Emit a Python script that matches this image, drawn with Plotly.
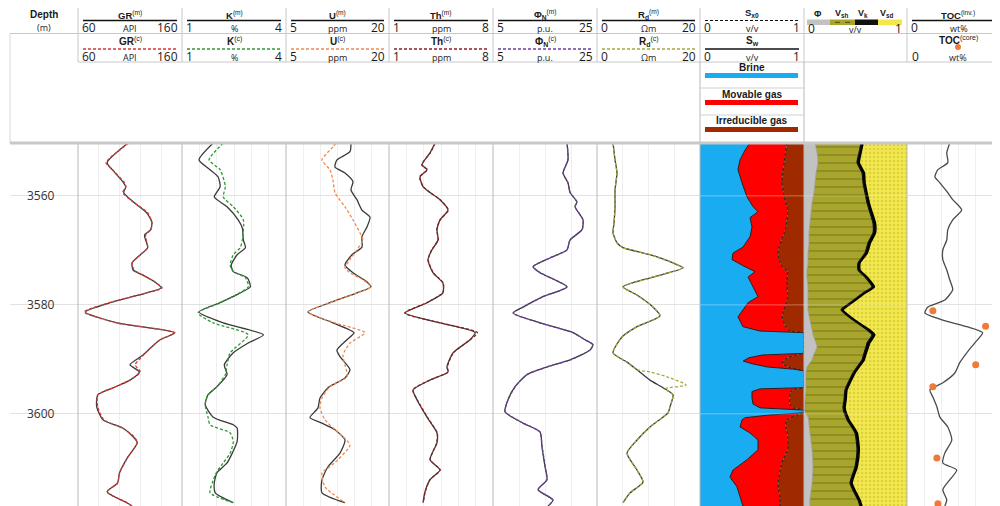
import plotly.graph_objects as go

# ---------------- DATA ----------------
DEPTH_TICKS = [3560, 3580, 3600]

GR_DEPTH = [3550.3, 3553.9, 3555.2, 3557.4, 3558.3, 3559.4, 3561.1, 3563.1, 3564.8, 3566.2, 3567.2, 3569.5, 3570.8,
            3572.3, 3573.6, 3574.5, 3575.8, 3576.9, 3577.8, 3579.6, 3581.3, 3583.3, 3585.1, 3586.4, 3587.7, 3589.2,
            3591.0, 3592.3, 3593.8, 3595.2, 3596.5, 3598.7, 3601.1, 3602.6, 3604.2, 3605.3, 3607.9, 3610.8, 3612.7,
            3614.3, 3616.3, 3616.9]
GR_M = [108, 88, 93, 103, 106, 104, 113, 126, 131, 130, 124, 127, 120, 112, 113, 122, 134, 140, 126, 91,
        67, 97.5, 153, 139, 131, 122.5, 110, 119, 110, 94, 79, 78, 84, 103, 113, 117, 108, 100, 98, 88, 107, 112]
GR_C = [109, 87, 93, 104, 106, 103, 113, 127, 131, 130, 125, 127, 120, 112, 114, 122, 134, 141, 126, 90,
        66, 97, 153, 139, 131, 123, 115, 120, 110, 94, 79, 79, 85, 103, 114, 117, 108, 100, 98, 88, 107, 112]

K_M_DEPTH = [3550.3, 3553.4, 3555.2, 3556.5, 3558.3, 3560.2, 3562.0, 3564.4, 3565.9, 3568.1, 3569.5, 3570.8, 3572.7,
             3573.9, 3575.0, 3576.7, 3577.8, 3579.6, 3581.3, 3583.3, 3585.5, 3587.0, 3588.8, 3591.0, 3592.8, 3595.0,
             3596.5, 3598.3, 3600.6, 3602.0, 3602.6, 3605.1, 3607.2, 3609.0, 3610.8, 3612.7, 3614.5, 3616.3]
K_M = [1.90, 1.49, 1.81, 2.04, 2.10, 1.93, 2.30, 2.62, 2.74, 2.77, 2.83, 2.59, 2.42, 2.48, 2.88, 2.97, 2.68, 2.10,
       1.49, 2.19, 3.35, 2.91, 2.48, 2.22, 2.30, 2.01, 1.75, 1.67, 1.90, 2.48, 2.59, 2.59, 2.45, 2.30, 2.01, 1.93,
       1.96, 2.48]
K_C_DEPTH = [3550.3, 3553.4, 3555.2, 3558.3, 3560.2, 3562.0, 3564.4, 3568.1, 3569.5, 3570.8, 3572.7, 3573.9, 3575.0,
             3576.7, 3579.6, 3581.5, 3583.3, 3585.5, 3588.8, 3591.0, 3592.8, 3595.0, 3596.5, 3598.3, 3600.6, 3602.0,
             3603.5, 3605.1, 3607.2, 3609.0, 3610.8, 3612.7, 3614.5, 3616.3]
K_C = [2.19, 1.78, 2.10, 2.25, 2.19, 2.48, 2.77, 2.74, 2.68, 2.48, 2.39, 2.48, 2.83, 2.91, 2.10, 1.46, 1.90, 2.91,
       2.39, 2.30, 2.25, 2.01, 1.75, 1.67, 1.75, 1.81, 2.39, 2.48, 2.39, 2.19, 1.99, 1.87, 1.81, 2.48]

U_M_DEPTH = [3550.3, 3551.9, 3553.4, 3554.7, 3555.8, 3557.4, 3558.9, 3560.7, 3562.6, 3563.9, 3565.7, 3567.5, 3569.4,
             3570.8, 3572.7, 3574.1, 3575.8, 3576.7, 3577.8, 3579.6, 3581.3, 3583.3, 3585.1, 3586.4, 3588.3, 3589.5,
             3591.9, 3593.4, 3595.2, 3597.1, 3598.9, 3600.7, 3601.7, 3602.9, 3604.8, 3607.2, 3609.7, 3612.1, 3614.5,
             3616.3]
U_M = [14.46, 14.32, 12.42, 12.13, 13.59, 14.75, 14.46, 15.33, 16.06, 17.23, 16.79, 16.06, 16.06, 14.61, 13.59,
       14.75, 16.79, 17.37, 15.33, 11.40, 8.20, 11.84, 14.90, 13.88, 12.42, 12.86, 14.32, 13.59, 11.11, 9.95, 9.66,
       8.49, 10.24, 12.13, 13.59, 12.86, 11.11, 10.24, 10.24, 13.59]
U_C_DEPTH = [3550.3, 3551.0, 3553.4, 3555.2, 3557.1, 3559.4, 3562.0, 3564.4, 3566.8, 3568.1, 3569.9, 3571.7, 3573.2,
             3574.1, 3575.4, 3576.7, 3577.8, 3579.6, 3581.3, 3583.3, 3585.1, 3587.0, 3589.2, 3591.0, 3593.2, 3595.0,
             3597.1, 3598.9, 3601.1, 3602.9, 3605.7, 3608.4, 3609.7, 3610.8, 3613.4, 3616.3]
U_C = [12.28, 11.84, 10.24, 11.40, 11.84, 12.13, 13.59, 14.75, 15.77, 16.21, 15.33, 14.32, 13.59, 14.32, 16.21,
       17.37, 15.33, 11.40, 8.20, 12.13, 16.50, 14.32, 13.30, 13.59, 13.88, 11.40, 10.24, 9.95, 10.68, 12.13, 14.32,
       12.57, 11.40, 10.24, 10.68, 13.59]

TH_DEPTH = [3550.3, 3552.1, 3554.3, 3555.2, 3556.5, 3558.3, 3559.4, 3560.7, 3562.6, 3564.4, 3566.2, 3568.1, 3569.9,
            3571.7, 3574.1, 3576.0, 3577.8, 3579.6, 3581.5, 3583.3, 3585.1, 3586.4, 3588.8, 3591.4, 3592.3, 3593.8,
            3595.6, 3597.4, 3600.6, 3603.5, 3605.3, 3608.4, 3610.3, 3612.1, 3614.3, 3616.3]
TH_M = [4.10, 3.76, 3.22, 3.56, 3.09, 3.29, 3.76, 4.43, 4.97, 4.43, 4.23, 4.30, 3.89, 3.62, 3.96, 4.63, 4.63, 3.56,
        2.08, 4.43, 6.80, 6.45, 5.31, 4.90, 4.97, 3.76, 2.62, 2.88, 3.56, 4.23, 4.23, 3.76, 4.43, 3.76, 3.42, 3.29]
TH_C = [4.12, 3.78, 3.20, 3.58, 3.07, 3.30, 3.78, 4.45, 4.99, 4.45, 4.21, 4.32, 3.87, 3.64, 3.98, 4.65, 4.61, 3.54,
        2.06, 4.45, 6.95, 6.47, 5.33, 4.92, 4.99, 3.74, 2.60, 2.90, 3.58, 4.25, 4.21, 3.78, 4.45, 3.74, 3.44, 3.31]

PHIN_DEPTH = [3550.3, 3553.4, 3555.8, 3557.6, 3559.4, 3561.1, 3562.0, 3564.4, 3566.2, 3568.1, 3569.9, 3571.4, 3573.0,
              3574.1, 3576.7, 3578.5, 3580.4, 3581.5, 3583.3, 3585.1, 3586.4, 3587.3, 3588.3, 3590.1, 3591.4, 3592.8,
              3595.0, 3597.4, 3599.6, 3601.7, 3603.3, 3606.1, 3609.7, 3612.1, 3613.9, 3615.8, 3616.9]
PHIN_M = [19.23, 19.42, 18.46, 19.42, 19.81, 21.15, 20.77, 22.31, 22.12, 19.81, 19.23, 15.96, 12.69, 14.04, 19.23,
          14.62, 10.77, 8.85, 14.04, 20.38, 22.69, 24.23, 23.65, 19.81, 15.38, 11.54, 9.23, 7.88, 7.31, 10.77, 14.04,
          14.42, 15.00, 15.38, 13.65, 16.54, 15.58]
PHIN_C = [19.25, 19.40, 18.50, 19.40, 19.85, 21.10, 20.80, 22.30, 22.15, 19.80, 19.25, 15.90, 12.70, 14.10, 19.20,
          14.60, 10.80, 8.90, 14.00, 20.40, 22.70, 24.20, 23.60, 19.85, 15.40, 11.50, 9.30, 7.90, 7.35, 10.80, 14.00,
          14.45, 15.05, 15.35, 13.70, 16.50, 15.60]

RD_M_DEPTH = [3550.3, 3553.4, 3555.8, 3558.9, 3562.0, 3565.0, 3566.8, 3568.6, 3569.5, 3570.8, 3572.3, 3573.2, 3574.9,
              3576.7, 3578.2, 3580.4, 3582.0, 3584.0, 3585.9, 3588.8, 3590.5, 3591.9, 3593.8, 3595.2, 3596.5, 3598.7,
              3599.8, 3602.4, 3604.8, 3607.2, 3610.3, 3612.5, 3614.5, 3616.3]
RD_M = [3.11, 3.50, 3.88, 3.50, 3.50, 3.30, 3.11, 3.88, 5.05, 10.29, 14.76, 16.70, 10.87, 5.05, 7.77, 10.87, 12.23,
        7.77, 4.85, 3.11, 5.83, 7.77, 10.29, 12.82, 14.76, 14.17, 13.79, 10.29, 7.77, 5.83, 7.77, 8.93, 6.41, 5.05]
RD_C_DEPTH = [3550.3, 3553.4, 3555.8, 3558.9, 3562.0, 3565.0, 3566.8, 3568.6, 3569.5, 3570.8, 3572.3, 3573.2, 3574.9,
              3576.7, 3578.2, 3580.4, 3582.0, 3584.0, 3585.9, 3588.8, 3590.5, 3591.9, 3592.3, 3593.2, 3594.7, 3595.4,
              3596.5, 3598.7, 3599.8, 3602.4, 3604.8, 3607.2, 3610.3, 3612.5, 3614.5, 3616.3]
RD_C = [3.11, 3.50, 3.88, 3.50, 3.50, 3.30, 3.11, 3.88, 5.05, 10.29, 14.76, 16.70, 10.87, 5.05, 7.77, 10.87, 12.23,
        7.77, 4.85, 3.11, 5.83, 7.77, 10.30, 13.60, 17.30, 13.20, 14.76, 14.17, 13.79, 10.29, 7.77, 5.83, 7.77, 8.93,
        6.41, 5.05]

SAT_DEPTH = [3550.3, 3551.6, 3553.4, 3555.2, 3557.6, 3560.2, 3562.0, 3562.9, 3564.0, 3565.7, 3567.5, 3569.4, 3570.5,
             3571.7, 3573.0, 3573.9, 3574.9, 3576.7, 3578.5, 3579.6, 3581.5, 3582.2, 3584.0, 3584.8, 3585.1, 3588.9,
             3589.2, 3589.7, 3590.3, 3590.8, 3591.4, 3591.8, 3592.1, 3595.2, 3595.4, 3595.9, 3597.1, 3598.2, 3598.9,
             3599.3, 3599.8, 3600.2, 3600.7, 3601.1, 3602.4, 3603.5, 3604.8, 3606.6, 3608.4, 3610.3, 3611.6, 3613.4,
             3615.2, 3616.9]
SW = [0.481, 0.433, 0.385, 0.365, 0.404, 0.452, 0.510, 0.558, 0.481, 0.500, 0.481, 0.413, 0.317, 0.308, 0.433, 0.529,
      0.462, 0.510, 0.558, 0.462, 0.385, 0.365, 0.413, 0.577, 1.0, 1.0, 0.60, 0.47, 0.415, 0.50, 0.65, 0.90, 1.0, 1.0,
      0.58, 0.50, 0.50, 0.51, 0.58, 1.0, 1.0, 0.67, 0.433, 0.404, 0.385, 0.481, 0.558, 0.558, 0.452, 0.317, 0.288,
      0.356, 0.385, 0.413]
SXO = [0.837, 0.827, 0.808, 0.798, 0.788, 0.808, 0.837, 0.846, 0.837, 0.827, 0.798, 0.760, 0.750, 0.760, 0.788, 0.846,
       0.837, 0.837, 0.846, 0.827, 0.798, 0.788, 0.817, 0.865, 1.0, 1.0, 0.92, 0.84, 0.80, 0.79, 0.85, 0.95, 1.0, 1.0,
       0.92, 0.87, 0.86, 0.86, 0.89, 1.0, 1.0, 0.93, 0.87, 0.83, 0.82, 0.84, 0.845, 0.846, 0.798, 0.77, 0.76, 0.75,
       0.77, 0.77]

LITH_DEPTH = [3550.3, 3552.1, 3553.9, 3555.8, 3557.6, 3559.4, 3561.3, 3563.1, 3565.0, 3566.8, 3568.6, 3570.5, 3572.3,
              3573.6, 3574.9, 3576.7, 3577.8, 3579.6, 3580.9, 3582.8, 3584.6, 3585.5, 3587.0, 3587.7, 3589.5, 3590.1,
              3591.4, 3592.5, 3593.2, 3595.6, 3597.4, 3598.7, 3599.3, 3600.6, 3601.1, 3603.5, 3606.6, 3609.7, 3612.7,
              3615.8, 3616.9]
PHI = [0.107, 0.126, 0.136, 0.117, 0.107, 0.097, 0.078, 0.068, 0.058, 0.049, 0.049, 0.039, 0.039, 0.029, 0.029, 0.039,
       0.039, 0.039, 0.039, 0.058, 0.078, 0.087, 0.117, 0.126, 0.087, 0.078, 0.029, 0.019, 0.019, 0.019, 0.010, 0.005,
       0.003, 0.039, 0.044, 0.058, 0.078, 0.087, 0.078, 0.058, 0.058]
VSH = [0.447, 0.408, 0.379, 0.447, 0.466, 0.495, 0.534, 0.573, 0.612, 0.621, 0.573, 0.553, 0.485, 0.495, 0.563, 0.621,
       0.534, 0.408, 0.320, 0.417, 0.534, 0.573, 0.495, 0.476, 0.485, 0.485, 0.485, 0.456, 0.437, 0.379, 0.379, 0.374,
       0.379, 0.369, 0.374, 0.437, 0.437, 0.408, 0.369, 0.466, 0.485]
VK = [0.020, 0.020, 0.022, 0.022, 0.020, 0.020, 0.022, 0.022, 0.024, 0.024, 0.024, 0.022, 0.020, 0.020, 0.022, 0.024,
      0.024, 0.022, 0.020, 0.020, 0.026, 0.028, 0.026, 0.024, 0.022, 0.022, 0.022, 0.020, 0.020, 0.020, 0.020, 0.020,
      0.020, 0.020, 0.020, 0.022, 0.022, 0.022, 0.020, 0.020, 0.020]

TOC_DEPTH = [3550.3, 3552.1, 3553.9, 3555.2, 3556.5, 3557.6, 3559.4, 3560.7, 3562.6, 3564.4, 3566.2, 3568.1, 3569.9,
             3571.7, 3573.6, 3575.4, 3577.2, 3579.1, 3580.4, 3581.5, 3582.8, 3584.0, 3585.1, 3587.0, 3588.8, 3590.6,
             3592.5, 3594.3, 3595.6, 3596.9, 3598.7, 3600.6, 3602.4, 3604.8, 3607.2, 3609.0, 3610.3, 3612.1, 3613.9,
             3615.8, 3616.9]
TOC_INV = [0.415, 0.386, 0.396, 0.300, 0.271, 0.319, 0.396, 0.444, 0.531, 0.444, 0.396, 0.386, 0.348, 0.348, 0.386,
           0.415, 0.444, 0.367, 0.203, 0.174, 0.348, 0.580, 0.734, 0.657, 0.580, 0.512, 0.464, 0.348, 0.222, 0.251,
           0.290, 0.319, 0.396, 0.435, 0.367, 0.348, 0.483, 0.415, 0.348, 0.386, 0.367]
CORE_DEPTH = [3581.1, 3583.9, 3591.0, 3595.0, 3608.1, 3616.5]
TOC_CORE = [0.251, 0.763, 0.667, 0.251, 0.290, 0.300]

TRACK_TITLES = ["GR", "K", "U", "Th", "Φ<sub>N</sub>", "R<sub>d</sub>"]
TRACK_UNITS = ["API", "%", "ppm", "ppm", "p.u.", "Ωm"]
TRACK_MIN = [60, 1, 5, 1, 5, 0]
TRACK_MAX = [160, 4, 20, 8, 25, 20]
CALC_COLORS = ["#d43a36", "#2f9a35", "#f08a50", "#8e1f1f", "#6d3fa0", "#a9a83a"]
LITH_LABELS = ["Φ", "V<sub>sh</sub>", "V<sub>k</sub>", "V<sub>sd</sub>"]
SAT_LEGEND = ["Brine", "Movable gas", "Irreducible gas"]

# ---------------- LAYOUT HELPERS ----------------
# the page has an 8 px body margin, so the figure is laid out in window pixels minus that offset
OFF = 8
W, H = 1000, 506
FW, FH = W - OFF, H - OFF
TOP = 143
EDGES = [10, 78, 182, 286, 389, 493, 597, 700, 804, 907, 1010]
YRANGE = [3616.9, 3550.3]
BLUE, RED, BROWN = "#1aacf0", "#ff0000", "#a02a00"
GRAY, OLIVE, YELLOW = "#c2c2c2", "#a8a52c", "#f2e84c"
TEXT = "#1a1a1a"


def px(x):
    return (x - OFF) / FW


def py(y):
    return 1 - (y - OFF) / FH


fig = go.Figure()
shapes = []
ann = []

x_ranges = [[0, 1]] + [[a, b] for a, b in zip(TRACK_MIN, TRACK_MAX)] + [[0, 1], [0, 1], [0, (W - 907) / (1010 - 907)]]
x_dticks = [None, 20, 0.5, 2.5, 7 / 6, 5, 5, None, None, 1 / 6]

layout_axes = {}
for i in range(10):
    n = "" if i == 0 else str(i + 1)
    x0, x1 = EDGES[i], min(EDGES[i + 1], W)
    xa = dict(domain=[px(x0), px(x1)], range=x_ranges[i], anchor="y" + n, showticklabels=False, ticks="",
              zeroline=False, showline=False, fixedrange=True,
              showgrid=x_dticks[i] is not None, gridcolor="#efefef", gridwidth=1)
    if x_dticks[i] is not None:
        xa.update(tick0=x_ranges[i][0], dtick=x_dticks[i])
    ya = dict(domain=[0, py(TOP)], range=YRANGE, anchor="x" + n, showticklabels=False, ticks="",
              tickvals=DEPTH_TICKS, showgrid=True, gridcolor="#e2e2e2", gridwidth=1, zeroline=False,
              showline=False, fixedrange=True)
    if i > 0:
        ya["matches"] = "y"
    layout_axes["xaxis" + n] = xa
    layout_axes["yaxis" + n] = ya


def ax(i):
    n = "" if i == 0 else str(i + 1)
    return dict(xaxis="x" + n, yaxis="y" + n)


LINE_M = dict(color="#3a3a3a", width=1.3, shape="spline", smoothing=0.6)


def calc_line(c):
    return dict(color=c, width=1.3, dash="3px,2px", shape="spline", smoothing=0.6)


curves = [
    (GR_DEPTH, GR_M, GR_DEPTH, GR_C),
    (K_M_DEPTH, K_M, K_C_DEPTH, K_C),
    (U_M_DEPTH, U_M, U_C_DEPTH, U_C),
    (TH_DEPTH, TH_M, TH_DEPTH, TH_C),
    (PHIN_DEPTH, PHIN_M, PHIN_DEPTH, PHIN_C),
    (RD_M_DEPTH, RD_M, RD_C_DEPTH, RD_C),
]
for k, (dm, vm, dc, vc) in enumerate(curves):
    fig.add_trace(go.Scatter(x=vm, y=dm, mode="lines", line=LINE_M, showlegend=False, hoverinfo="skip", **ax(k + 1)))
    fig.add_trace(go.Scatter(x=vc, y=dc, mode="lines", line=calc_line(CALC_COLORS[k]), showlegend=False,
                             hoverinfo="skip", **ax(k + 1)))

# Saturation track
fig.add_trace(go.Scatter(x=SW, y=SAT_DEPTH, mode="lines", fill="tozerox", fillcolor=BLUE,
                         line=dict(color="#202020", width=1), showlegend=False, hoverinfo="skip", **ax(7)))
fig.add_trace(go.Scatter(x=SXO, y=SAT_DEPTH, mode="lines", fill="tonextx", fillcolor=RED,
                         line=dict(color="#202020", width=1, dash="3px,2px"), showlegend=False, hoverinfo="skip",
                         **ax(7)))
fig.add_trace(go.Scatter(x=[1.0 for _ in SAT_DEPTH], y=SAT_DEPTH, mode="lines", fill="tonextx", fillcolor=BROWN,
                         line=dict(color=BROWN, width=0), showlegend=False, hoverinfo="skip", **ax(7)))

# Lithology track
cum1 = PHI
cum2 = [a + b for a, b in zip(PHI, VSH)]
cum3 = [a + b + c for a, b, c in zip(PHI, VSH, VK)]
vsd = [1 - c for c in cum3]
cum4 = [a + b for a, b in zip(cum3, vsd)]
fig.add_trace(go.Scatter(x=cum1, y=LITH_DEPTH, mode="lines", fill="tozerox", fillcolor=GRAY,
                         line=dict(color="#9a9a9a", width=0.8, shape="spline", smoothing=0.5), showlegend=False,
                         hoverinfo="skip", **ax(8)))
fig.add_trace(go.Scatter(x=cum2, y=LITH_DEPTH, mode="lines", fill="tonextx", fillcolor=OLIVE,
                         fillpattern=dict(shape="-", bgcolor=OLIVE, fgcolor="#6a6818", size=8, solidity=0.2),
                         line=dict(color="#111111", width=1.2, shape="spline", smoothing=0.5), showlegend=False,
                         hoverinfo="skip", **ax(8)))
fig.add_trace(go.Scatter(x=cum3, y=LITH_DEPTH, mode="lines", fill="tonextx", fillcolor="#000000",
                         line=dict(color="#000000", width=1.5, shape="spline", smoothing=0.5), showlegend=False,
                         hoverinfo="skip", **ax(8)))
fig.add_trace(go.Scatter(x=cum4, y=LITH_DEPTH, mode="lines", fill="tonextx", fillcolor=YELLOW,
                         fillpattern=dict(shape=".", bgcolor=YELLOW, fgcolor="#c4b733", size=4, solidity=0.3),
                         line=dict(color=YELLOW, width=0), showlegend=False, hoverinfo="skip", **ax(8)))

# TOC track
fig.add_trace(go.Scatter(x=TOC_INV, y=TOC_DEPTH, mode="lines", line=dict(color="#4a4a4a", width=1.3, shape="spline",
                                                                          smoothing=0.6),
                         showlegend=False, hoverinfo="skip", **ax(9)))
fig.add_trace(go.Scatter(x=TOC_CORE, y=CORE_DEPTH, mode="markers", marker=dict(color="#f07a3a", size=7),
                         showlegend=False, hoverinfo="skip", **ax(9)))

# ---------------- SHAPES / HEADER ----------------
BORDER = "#b8b8b8"


def hline(x0, x1, y, color=BORDER, width=1, dash=None, layer="above"):
    ln = dict(color=color, width=width)
    if dash:
        ln["dash"] = dash
    shapes.append(dict(type="line", xref="paper", yref="paper", x0=px(x0), x1=px(x1), y0=py(y), y1=py(y),
                       line=ln, layer=layer))


def vline(x, y0, y1, color=BORDER, width=1):
    shapes.append(dict(type="line", xref="paper", yref="paper", x0=px(x), x1=px(x), y0=py(y0), y1=py(y1),
                       line=dict(color=color, width=width), layer="above"))


def rect(x0, x1, y0, y1, color):
    shapes.append(dict(type="rect", xref="paper", yref="paper", x0=px(x0), x1=px(x1), y0=py(y1), y1=py(y0),
                       fillcolor=color, line=dict(width=0), layer="above"))


def text(x, y, s, size=10, anchor="center", bold=False, family="Liberation Sans", color=TEXT):
    if bold:
        s = "<b>" + s + "</b>"
    ann.append(dict(x=px(x), y=py(y), xref="paper", yref="paper", text=s, showarrow=False, xanchor=anchor,
                    yanchor="middle", borderpad=0, font=dict(size=size, family=family, color=color)))


def scale_row(x0, x1, y, lo, unit, hi):
    text(x0 + 3, y, str(lo), size=12, anchor="left", family="Open Sans")
    text((x0 + x1) / 2, y + 0.5, unit, size=9, family="Open Sans")
    text(x1 - 3, y, str(hi), size=12, anchor="right", family="Open Sans")


# header grid lines
hline(10, W, 33.5, color="#c8c8c8")
hline(78, W, 62, color="#c8c8c8")
for x in EDGES[1:10]:
    vline(x, OFF, 62, color="#c8c8c8")
vline(700, 62, TOP)
vline(804, 62, TOP)
vline(10, 33.5, TOP, color="#d8d8d8")
hline(700, 804, 88, color="#d0d0d0")
hline(700, 804, 115, color="#d0d0d0")

# depth header
text(44, 14, "Depth", size=10, bold=True)
text(44, 27, "(m)", size=9, family="Open Sans")

ROW1_Y = 15.5  # centre of row-1 titles (window px)
ROW1_Y_SUB = 14  # titles with a subscript sit a little higher

# log tracks header
for k in range(6):
    x0, x1 = EDGES[k + 1], EDGES[k + 2]
    cx = (x0 + x1) / 2
    has_sub = "<sub>" in TRACK_TITLES[k]
    text(cx, ROW1_Y_SUB if has_sub else ROW1_Y, "<b>" + TRACK_TITLES[k] + "</b><sup>(m)</sup>", size=9.5)
    hline(x0 + 5, x1 - 5, 20.5, color="#111111", width=1.3)
    scale_row(x0, x1, 27.5, TRACK_MIN[k], TRACK_UNITS[k], TRACK_MAX[k])
    text(cx, 41 if has_sub else 41.5, "<b>" + TRACK_TITLES[k] + "</b><sup>(c)</sup>", size=10)
    hline(x0 + 5, x1 - 5, 49, color=CALC_COLORS[k], width=1.3, dash="3px,2px")
    scale_row(x0, x1, 56.5, TRACK_MIN[k], TRACK_UNITS[k], TRACK_MAX[k])

# saturation header
x0, x1 = 700, 804
text(752, 13, "S<sub>x0</sub>", size=9.5, bold=True)
hline(x0 + 5, x1 - 5, 20.5, color="#111111", width=1.2, dash="3px,2px")
scale_row(x0, x1, 27.5, 0, "v/v", 1)
text(752, 40.5, "S<sub>w</sub>", size=10, bold=True)
hline(x0 + 5, x1 - 5, 49, color="#111111", width=1.3)
scale_row(x0, x1, 56.5, 0, "v/v", 1)
for lbl, yy, col in zip(SAT_LEGEND, [67, 94, 121], [BLUE, RED, BROWN]):
    text(752, yy, lbl, size=10, bold=True)
    rect(705, 798, yy + 6, yy + 11, col)

# lithology header
for lbl, xx in zip(LITH_LABELS, [818, 842, 863, 887]):
    text(xx, 13.5, lbl, size=9, bold=True)
rect(807, 830, 19.5, 25, GRAY)
rect(830, 855, 19.5, 25, OLIVE)
rect(855, 878, 19.5, 25, "#111111")
rect(878, 902, 19.5, 25, YELLOW)
for xx in [835, 845]:
    hline(xx, xx + 5, 22.3, color="#4d4c10", width=1)
text(807, 29, "0", size=12, anchor="left", family="Open Sans")
text(855, 29.5, "v/v", size=9, family="Open Sans")
text(903, 29, "1", size=12, anchor="right", family="Open Sans")

# TOC header
x0, x1 = 907, 1010
text(958, ROW1_Y, "<b>TOC</b><sup>(inv.)</sup>", size=9.5)
hline(x0 + 5, W, 20.5, color="#111111", width=1.3)
scale_row(x0, x1, 27.5, 0, "wt%", 1)
text(958, 40, "<b>TOC</b><sup>(core)</sup>", size=10)
shapes.append(dict(type="circle", xref="paper", yref="paper", x0=px(955), x1=px(961), y0=py(50), y1=py(44),
                   fillcolor="#f07a3a", line=dict(width=0)))
text(911, 56.5, "0", size=12, anchor="left", family="Open Sans")
text(958, 57, "wt%", size=9, family="Open Sans")

# plot area borders
for x in EDGES[1:10]:
    vline(x, TOP, H)
hline(10, W, TOP, color="#c8c8c8", width=3)

# light gridlines on top of saturation / lithology fills
for d in DEPTH_TICKS:
    shapes.append(dict(type="line", xref="paper", yref="y8", x0=px(700), x1=px(804), y0=d, y1=d,
                       line=dict(color="rgba(255,255,255,0.35)", width=1), layer="above"))
    shapes.append(dict(type="line", xref="paper", yref="y9", x0=px(804), x1=px(907), y0=d, y1=d,
                       line=dict(color="rgba(255,255,255,0.25)", width=1), layer="above"))

# depth labels
for d in DEPTH_TICKS:
    ann.append(dict(x=px(57), y=d, xref="paper", yref="y", text=str(d), showarrow=False, xanchor="right",
                    yanchor="middle", font=dict(size=12, family="Open Sans", color="#333333")))

fig.update_layout(width=FW, height=FH, margin=dict(l=0, r=0, t=0, b=0), paper_bgcolor="white",
                  plot_bgcolor="white", shapes=shapes, annotations=ann, showlegend=False, **layout_axes)

fig.write_html("out.html")
